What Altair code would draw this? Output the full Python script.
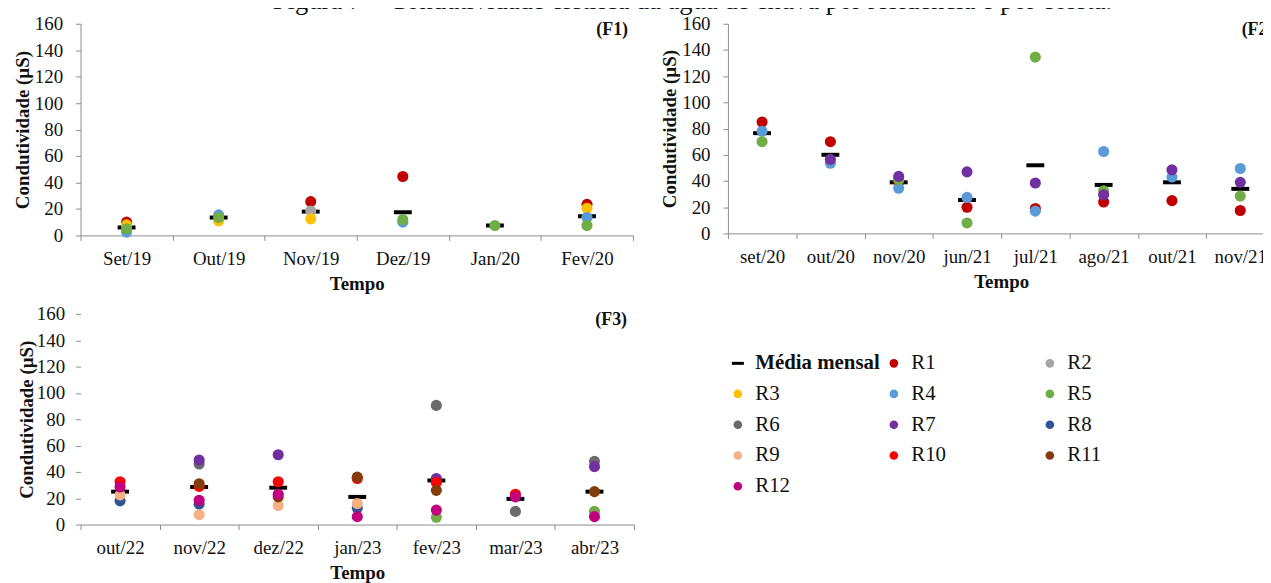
import altair as alt
import pandas as pd

TITLE = "Figura 7 – Condutividade elétrica da água de chuva por residência e por coleta."
FONT = "Liberation Serif"

LEGEND_DOMAIN = ["Média mensal", "R1", "R2", "R3", "R4", "R5", "R6",
                 "R7", "R8", "R9", "R10", "R11", "R12"]
COLORS = ["#000000", "#C00000", "#A5A5A5", "#FFC000", "#5B9BD5", "#70AD47",
          "#6A6A6A", "#7030A0", "#2F5597", "#F4B183", "#FF0000", "#843C0C",
          "#C0007F"]

# ---- Panel F1 ----
F1_MONTHS = ["Set/19", "Out/19", "Nov/19", "Dez/19", "Jan/20", "Fev/20"]
F1_R1 = [10, None, 25.5, 44.5, None, 23.5]
F1_R2 = [None, None, 18.5, None, None, None]
F1_R3 = [8, 11, 12.5, None, None, 20.5]
F1_R4 = [2.5, 15.5, None, 10, None, 13.5]
F1_R5 = [5, 13.5, None, 12, 7.5, 7.5]
F1_MEAN = [6, 13.5, 18, 17.5, 7.5, 14.5]

# ---- Panel F2 ----
F2_MONTHS = ["set/20", "out/20", "nov/20", "jun/21", "jul/21", "ago/21", "out/21", "nov/21"]
F2_R1 = [85, 70, 39, 20, 19, 24, 25, 17.5]
F2_R4 = [78, 53.5, 34.5, 27.5, 17, 62.5, 43, 49.5]
F2_R5 = [70, None, 41, 8, 134.5, 32.5, None, 28.5]
F2_R7 = [None, 56.5, 43.5, 47, 38.5, 29.5, 48.5, 39]
F2_MEAN = [76.5, 60, 39, 25.5, 52, 37, 39, 34]

# ---- Panel F3 ----
F3_MONTHS = ["out/22", "nov/22", "dez/22", "jan/23", "fev/23", "mar/23", "abr/23"]
F3_R5 = [None, None, None, None, 5.5, None, 10]
F3_R6 = [None, 46, None, None, 90.5, 10, 48]
F3_R7 = [None, 49, 53, None, 35, None, 44]
F3_R8 = [18, 15.5, None, 12.5, None, None, None]
F3_R9 = [22.5, 7.5, 14.5, 16, None, None, None]
F3_R10 = [32.5, 29, 32.5, 35, 32, 23, None]
F3_R11 = [None, 31, 21, 36, 26, None, 25]
F3_R12 = [28.5, 18.5, 23, 6, 11, 21, 6]
F3_MEAN = [25, 28.5, 28, 21, 33.5, 19.5, 25]


def long_df(months, series):
    rows = []
    for res, vals in series:
        for m, v in zip(months, vals):
            if v is not None:
                rows.append({"month": m, "res": res, "value": v})
    return pd.DataFrame(rows)


LEGEND = alt.Legend(
    title=None, orient="none", legendX=651, legendY=331, columns=3,
    direction="horizontal",
    gridAlign="all", columnPadding=3, rowPadding=9,
    symbolSize=75, symbolOpacity=1, symbolStrokeWidth=0,
    symbolType={"expr": "datum.label === 'Média mensal' ? 'M-1.4,-0.35H1.4V0.35H-1.4Z' : 'circle'"},
    labelFont=FONT, labelFontSize=21, labelColor="#111", labelOffset=7,
    labelFontWeight={"expr": "datum.label === 'Média mensal' ? 'bold' : 'normal'"},
)


def panel(months, series, means, label, w, h, ydomain=True, label_dx=5,
          ylabel_pad=13, ytitle_pad=2):
    pts = long_df(months, series)
    mdf = pd.DataFrame({"month": months, "value": means})
    xenc = alt.X("month:N", sort=months,
                 scale=alt.Scale(type="band", paddingInner=0, paddingOuter=0),
                 axis=alt.Axis(title="Tempo", tickBand="extent", labelAngle=0,
                               labelPadding=9, titlePadding=6, tickSize=5))
    yenc = alt.Y("value:Q", scale=alt.Scale(domain=[0, 160], nice=False),
                 axis=alt.Axis(values=list(range(0, 161, 20)),
                               title="Condutividade (µS)", grid=False,
                               tickSize=5, labelPadding=ylabel_pad,
                               titlePadding=ytitle_pad, domain=ydomain))
    ticks = alt.Chart(mdf).mark_tick(color="black", thickness=4, size=18,
                                     opacity=1).encode(x=xenc, y=yenc)
    points = alt.Chart(pts).mark_circle(size=125, opacity=1).encode(
        x=xenc, y=yenc,
        color=alt.Color("res:N", scale=alt.Scale(domain=LEGEND_DOMAIN, range=COLORS),
                        legend=LEGEND),
    )
    lab = alt.Chart(pd.DataFrame({"t": [label]})).mark_text(
        font=FONT, fontWeight="bold", fontSize=18, align="right", baseline="top",
        color="#111").encode(text="t:N", x=alt.value(w - label_dx), y=alt.value(-3))
    return alt.layer(ticks, points, lab).properties(width=w, height=h)


f1 = panel(F1_MONTHS, [("R1", F1_R1), ("R2", F1_R2), ("R3", F1_R3),
                       ("R4", F1_R4), ("R5", F1_R5)], F1_MEAN, "(F1)", 556, 213)
f2 = panel(F2_MONTHS, [("R1", F2_R1), ("R4", F2_R4), ("R5", F2_R5),
                       ("R7", F2_R7)], F2_MEAN, "(F2)", 550, 211, label_dx=1)
f3 = panel(F3_MONTHS, [("R5", F3_R5), ("R6", F3_R6), ("R7", F3_R7), ("R8", F3_R8),
                       ("R9", F3_R9), ("R10", F3_R10), ("R11", F3_R11),
                       ("R12", F3_R12)], F3_MEAN, "(F3)", 557, 212, ydomain=False,
           label_dx=7, ylabel_pad=11, ytitle_pad=0)

chart = alt.vconcat(
    alt.hconcat(f1, f2, spacing=26.5),
    f3, spacing=12,
).properties(
    title=alt.TitleParams(TITLE, font=FONT, fontSize=26.7, fontWeight="normal",
                          anchor="start", dx=261, offset=-21, baseline="alphabetic",
                          color="#111"),
    padding={"top": -22, "left": 5, "right": -12, "bottom": 5},
).configure_view(stroke=None).configure_axis(
    labelFont=FONT, titleFont=FONT, labelFontSize=19, titleFontSize=19,
    titleFontWeight="bold", labelColor="#111", titleColor="#111",
    domainColor="#8c8c8c", tickColor="#8c8c8c",
).configure_legend(labelFont=FONT)

chart.save("out.html", embed_options={"renderer": "svg", "actions": False})
